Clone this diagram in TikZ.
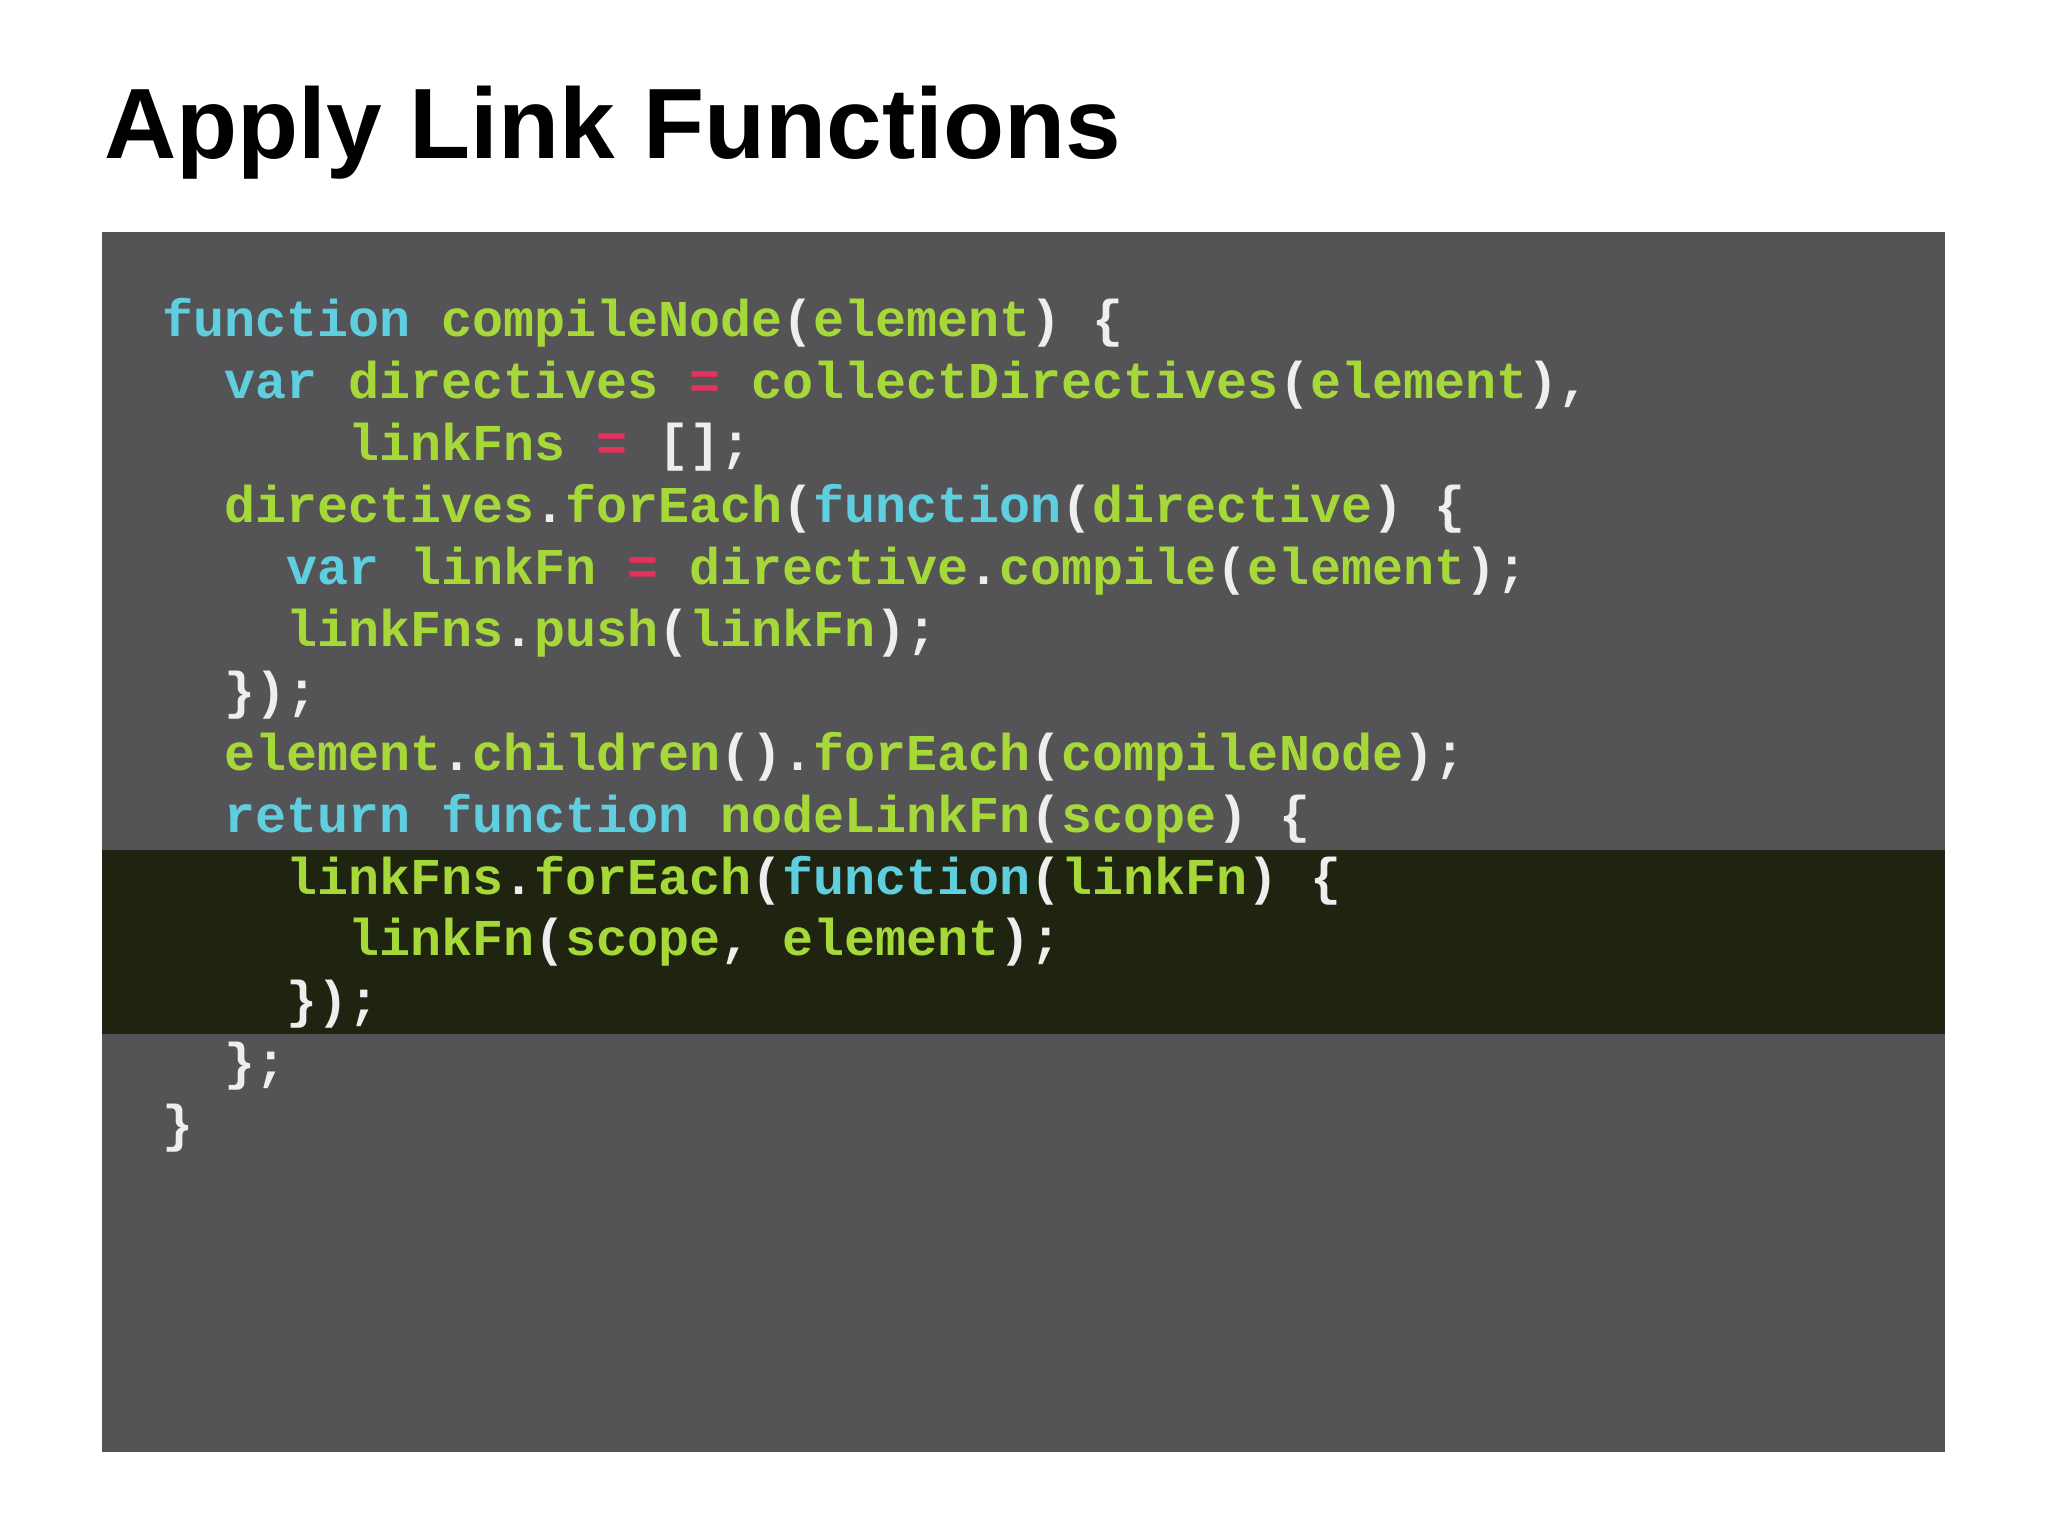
\documentclass[tikz,border=0pt]{standalone}
\usepackage{fontspec}
\setmainfont{Liberation Sans}
\newfontfamily\codefont{Liberation Mono}
\definecolor{bgg}{HTML}{545355}
\definecolor{hl}{HTML}{1E2410}
\definecolor{ck}{HTML}{5FCFE0}
\definecolor{cg}{HTML}{A6D83A}
\definecolor{cp}{HTML}{E8305C}
\definecolor{cw}{HTML}{EEEEEE}
\newcommand\cK[1]{\textcolor{ck}{#1}}
\newcommand\cG[1]{\textcolor{cg}{#1}}
\newcommand\cP[1]{\textcolor{cp}{#1}}
\newcommand\cW[1]{\textcolor{cw}{#1}}
\tikzset{codeline/.style={anchor=base west,inner sep=0,font=\codefont\bfseries\fontsize{51.7}{62}\selectfont}}
\begin{document}
\begin{tikzpicture}[x=1pt,y=1pt]
\useasboundingbox (0,0) rectangle (2048,1537);
\fill[white] (0,0) rectangle (2048,1537);
\node[anchor=base west,inner sep=0,font=\bfseries\fontsize{100}{110}\selectfont] (title) at (104,1378) {Apply Link Functions};
\fill[bgg] (102,85) rectangle (1945,1305);
\fill[hl] (102,503) rectangle (1945,687);
\def\bx{162}\def\cw{31}
\foreach \i/\ind/\txt in {
0/0/{\cK{function} \cG{compileNode}\cW{(}\cG{element}\cW{) \{}},
1/2/{\cK{var} \cG{directives} \cP{=} \cG{collectDirectives}\cW{(}\cG{element}\cW{),}},
2/6/{\cG{linkFns} \cP{=} \cW{[];}},
3/2/{\cG{directives}\cW{.}\cG{forEach}\cW{(}\cK{function}\cW{(}\cG{directive}\cW{) \{}},
4/4/{\cK{var} \cG{linkFn} \cP{=} \cG{directive}\cW{.}\cG{compile}\cW{(}\cG{element}\cW{);}},
5/4/{\cG{linkFns}\cW{.}\cG{push}\cW{(}\cG{linkFn}\cW{);}},
6/2/{\cW{\});}},
7/2/{\cG{element}\cW{.}\cG{children}\cW{().}\cG{forEach}\cW{(}\cG{compileNode}\cW{);}},
8/2/{\cK{return} \cK{function} \cG{nodeLinkFn}\cW{(}\cG{scope}\cW{) \{}},
9/4/{\cG{linkFns}\cW{.}\cG{forEach}\cW{(}\cK{function}\cW{(}\cG{linkFn}\cW{) \{}},
10/6/{\cG{linkFn}\cW{(}\cG{scope}\cW{,} \cG{element}\cW{);}},
11/4/{\cW{\});}},
12/2/{\cW{\};}},
13/0/{\cW{\}}}}
  \node[codeline] (l\i) at ({\bx+\ind*\cw},{1200-\i*61.9}) {\txt};
\end{tikzpicture}
\end{document}
